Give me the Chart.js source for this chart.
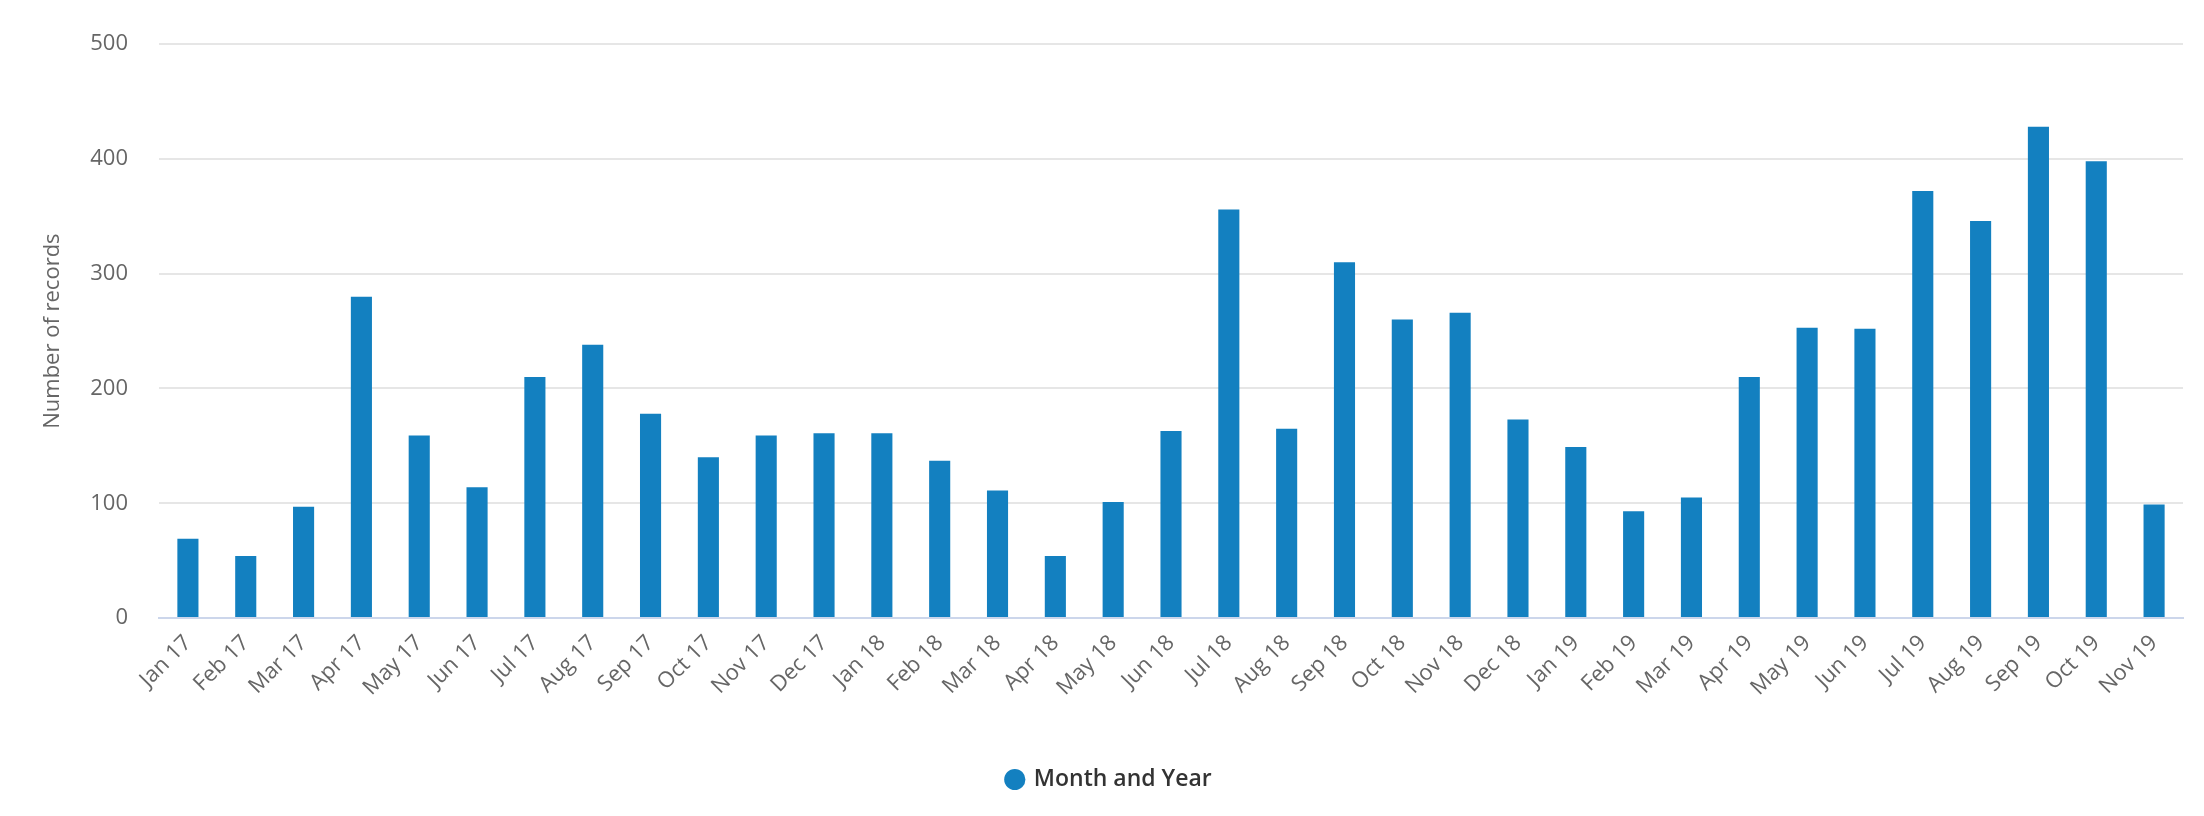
<!DOCTYPE html>
<html>
<head>
<meta charset="utf-8">
<script src="https://cdn.jsdelivr.net/npm/chart.js@4/dist/chart.umd.min.js"></script>
<style>
  html, body { margin: 0; padding: 0; background: #fff; }
  #wrap { width: 2204px; height: 816px; }
</style>
</head>
<body>
<div id="wrap"><canvas id="chart" width="2204" height="816"></canvas></div>
<script>
const months = [
  "Jan 17", "Feb 17", "Mar 17", "Apr 17", "May 17", "Jun 17", "Jul 17", "Aug 17", "Sep 17", "Oct 17", "Nov 17", "Dec 17",
  "Jan 18", "Feb 18", "Mar 18", "Apr 18", "May 18", "Jun 18", "Jul 18", "Aug 18", "Sep 18", "Oct 18", "Nov 18", "Dec 18",
  "Jan 19", "Feb 19", "Mar 19", "Apr 19", "May 19", "Jun 19", "Jul 19", "Aug 19", "Sep 19", "Oct 19", "Nov 19",
];
const records = [
  69, 54, 97, 280, 159, 114, 210, 238, 178, 140, 159, 161,
  161, 137, 111, 54, 101, 163, 356, 165, 310, 260, 266, 173,
  149, 93, 105, 210, 253, 252, 372, 346, 428, 398, 99,
];
const yTicks = [0, 100, 200, 300, 400, 500];

const blue = "#1380c0", muted = "#666666", grid = "#e6e6e6";
const font = "'Open Sans', 'DejaVu Sans', sans-serif";

new Chart(document.getElementById("chart"), {
  type: "bar",
  data: {
    labels: months,
    datasets: [{
      label: "Month and Year",
      data: records,
      backgroundColor: blue,
      borderWidth: 0,
      barPercentage: 0.365,
      categoryPercentage: 1,
    }],
  },
  options: {
    responsive: false,
    animation: false,
    layout: { padding: { left: 36, right: 21, top: 31, bottom: 15 } },
    plugins: {
      tooltip: { enabled: false },
      legend: {
        position: "bottom",
        labels: {
          usePointStyle: true, pointStyle: "circle", boxWidth: 15, boxHeight: 15,
          color: "#333333", padding: 10,
          font: { family: font, size: 23, weight: 600 },
        },
      },
    },
    scales: {
      x: {
        grid: { display: false, drawTicks: false },
        border: { color: "#ccd6eb", width: 2 },
        ticks: {
          color: muted, minRotation: 45, maxRotation: 45, autoSkip: false, padding: 12,
          font: { family: font, size: 22 },
        },
        afterFit: (axis) => { axis.height = 140; },
      },
      y: {
        min: 0, max: 500,
        afterBuildTicks: (axis) => { axis.ticks = yTicks.map((v) => ({ value: v })); },
        grid: { color: grid, lineWidth: 2, drawTicks: false },
        border: { display: false },
        ticks: { color: muted, padding: 31, font: { family: font, size: 22 } },
        title: {
          display: true, text: "Number of records", color: muted,
          font: { family: font, size: 22 },
        },
        afterFit: (axis) => { axis.width = 123; },
      },
    },
  },
});
</script>
</body>
</html>
